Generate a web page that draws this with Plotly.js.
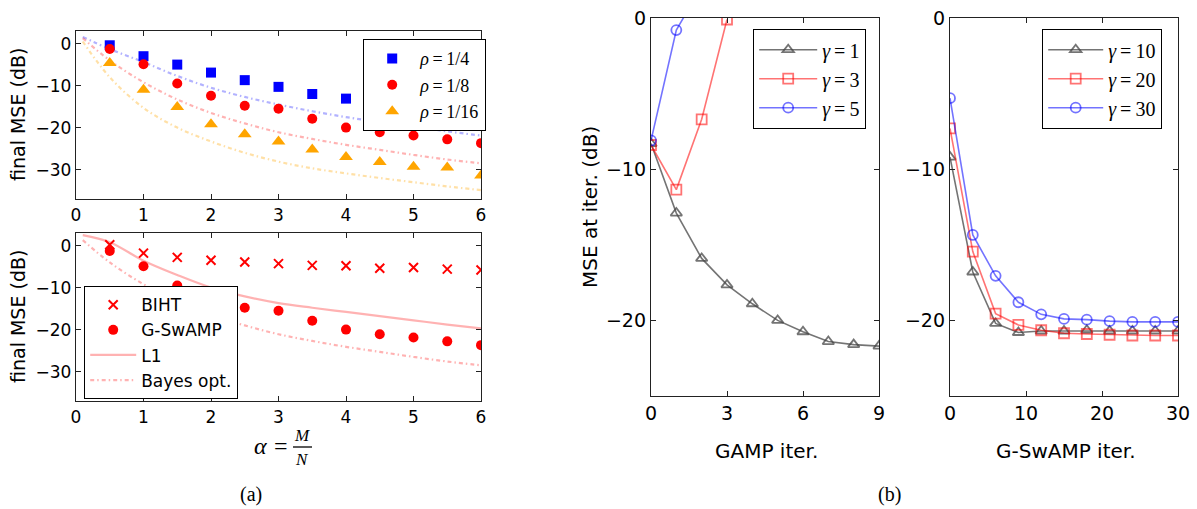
<!DOCTYPE html>
<html>
<head>
<meta charset="utf-8">
<script src="https://cdn.plot.ly/plotly-3.0.1.min.js"></script>
<style>html,body{margin:0;padding:0;background:#fff;}#chart{width:1197px;height:509px;}</style>
</head>
<body>
<div id="chart"></div>
<script>
// ---------- data ----------
const alpha = [0.5, 1, 1.5, 2, 2.5, 3, 3.5, 4, 4.5, 5, 5.5, 6];
const rho4  = [-0.4, -3.0, -5.0, -6.9, -8.7, -10.3, -12.0, -13.1, -14.3, -15.3, -16.3, -17.2];
const rho8  = [-1.3, -4.9, -9.5, -12.4, -14.8, -15.5, -17.9, -20.0, -21.1, -21.9, -22.8, -23.7];
const rho16 = [-4.6, -11.0, -15.1, -19.2, -21.6, -23.3, -25.2, -27.0, -28.2, -29.3, -29.5, -31.4];

const alphaC  = [0.1, 0.5, 1, 1.5, 2, 2.5, 3, 3.5, 4, 4.5, 5, 5.5, 6];
const bayes4  = [1.6, -1.3, -4.4, -7.7, -10.5, -12.7, -14.5, -16.1, -17.5, -18.7, -19.8, -20.9, -21.9];
const bayes8  = [1.3, -4.0, -9.2, -13.3, -16.5, -19.0, -21.1, -22.7, -24.1, -25.3, -26.5, -27.6, -28.5];
const bayes16 = [0.5, -8.0, -15.3, -20.0, -23.3, -26.0, -28.1, -29.7, -30.9, -32.0, -33.0, -34.0, -34.9];

const biht   = [0.2, -1.8, -2.8, -3.5, -3.9, -4.3, -4.7, -4.8, -5.4, -5.2, -5.6, -5.8];
const gswamp = rho8;
const l1     = [2.5, 0.8, -3.6, -7.0, -10.0, -12.1, -13.7, -14.8, -15.8, -16.8, -17.8, -18.8, -19.7];

const gampIter = [0, 1, 2, 3, 4, 5, 6, 7, 8, 9];
const gamma1 = [-8.3, -12.9, -15.9, -17.65, -18.9, -20.0, -20.75, -21.4, -21.6, -21.7];
const gamma3 = [-8.4, -11.35, -6.7, -0.1];
const gamma5 = [-8.1, -0.8, 2.1];

const swampIter = [0, 3, 6, 9, 12, 15, 18, 21, 24, 27, 30];
const gamma10 = [-9.2, -16.8, -20.2, -20.8, -20.7, -20.7, -20.65, -20.7, -20.7, -20.7, -20.7];
const gamma20 = [-7.3, -15.45, -19.55, -20.3, -20.65, -20.85, -20.9, -20.95, -21.0, -21.0, -21.0];
const gamma30 = [-5.3, -14.35, -17.05, -18.8, -19.6, -19.9, -19.95, -20.05, -20.1, -20.1, -20.1];

const ticksA = [0, 1, 2, 3, 4, 5, 6];
const ticksYA = [0, -10, -20, -30];
const ticksGamp = [0, 3, 6, 9];
const ticksSwamp = [0, 10, 20, 30];
const ticksYB = [0, -10, -20];

// ---------- helpers ----------
const W = 1197, H = 509;
const px = x => x / W;
const py = y => 1 - y / H;
const SANS = 'DejaVu Sans, sans-serif';
const SERIF = 'Liberation Serif, DejaVu Serif, serif';
const DASHDOT = '4px,3px,1.5px,3px';

const traces = [];
// top-left: Bayes-opt curves (no legend)
[[bayes4, 'rgba(0,0,255,0.3)'], [bayes8, 'rgba(255,0,0,0.3)'], [bayes16, 'rgba(255,165,0,0.35)']].forEach(([ys, c]) => {
  traces.push({x: alphaC, y: ys, xaxis: 'x', yaxis: 'y', mode: 'lines', showlegend: false,
    line: {color: c, width: 2.2, dash: DASHDOT, shape: 'spline'}, hoverinfo: 'skip'});
});
traces.push({x: alpha, y: rho4, xaxis: 'x', yaxis: 'y', mode: 'markers', name: '<i>ρ</i>\u2009=\u20091/4', legend: 'legend',
  marker: {symbol: 'square', size: 10, color: '#0000ff'}});
traces.push({x: alpha, y: rho8, xaxis: 'x', yaxis: 'y', mode: 'markers', name: '<i>ρ</i>\u2009=\u20091/8', legend: 'legend',
  marker: {symbol: 'circle', size: 10, color: '#ff0000'}});
traces.push({x: alpha, y: rho16, xaxis: 'x', yaxis: 'y', mode: 'markers', name: '<i>ρ</i>\u2009=\u20091/16', legend: 'legend',
  marker: {symbol: 'triangle-up', size: 12, color: '#ffa500'}});

// bottom-left
traces.push({x: alphaC, y: l1, xaxis: 'x2', yaxis: 'y2', mode: 'lines', name: 'L1', legend: 'legend2', legendrank: 3,
  line: {color: 'rgba(255,0,0,0.3)', width: 2.2, shape: 'spline'}});
traces.push({x: alphaC, y: bayes8, xaxis: 'x2', yaxis: 'y2', mode: 'lines', name: 'Bayes opt.', legend: 'legend2', legendrank: 4,
  line: {color: 'rgba(255,0,0,0.3)', width: 2.2, dash: DASHDOT, shape: 'spline'}});
traces.push({x: alpha, y: biht, xaxis: 'x2', yaxis: 'y2', mode: 'markers', name: 'BIHT', legend: 'legend2', legendrank: 1,
  marker: {symbol: 'x-thin-open', size: 9, color: '#ff0000', line: {color: '#ff0000', width: 2}}});
traces.push({x: alpha, y: gswamp, xaxis: 'x2', yaxis: 'y2', mode: 'markers', name: 'G-SwAMP', legend: 'legend2', legendrank: 2,
  marker: {symbol: 'circle', size: 10, color: '#ff0000'}});

// middle (GAMP)
const cGray = 'rgba(70,70,70,0.75)', cRed = 'rgba(255,0,0,0.55)', cBlue = 'rgba(0,0,255,0.55)';
function lm(xs, ys, xa, ya, name, col, sym, leg) {
  return {x: xs, y: ys, xaxis: xa, yaxis: ya, mode: 'lines+markers', name: name, legend: leg, cliponaxis: true,
    line: {color: col, width: 1.6}, marker: {symbol: sym, size: 10, color: col, line: {color: col, width: 1.8}}};
}
traces.push(lm(gampIter, gamma1, 'x3', 'y3', '<i>γ</i>\u2009=\u20091', cGray, 'triangle-up-open', 'legend3'));
traces.push(lm(gampIter.slice(0, gamma3.length), gamma3, 'x3', 'y3', '<i>γ</i>\u2009=\u20093', cRed, 'square-open', 'legend3'));
traces.push(lm(gampIter.slice(0, gamma5.length), gamma5, 'x3', 'y3', '<i>γ</i>\u2009=\u20095', cBlue, 'circle-open', 'legend3'));

// right (G-SwAMP)
traces.push(lm(swampIter, gamma10, 'x4', 'y4', '<i>γ</i>\u2009=\u200910', cGray, 'triangle-up-open', 'legend4'));
traces.push(lm(swampIter, gamma20, 'x4', 'y4', '<i>γ</i>\u2009=\u200920', cRed, 'square-open', 'legend4'));
traces.push(lm(swampIter, gamma30, 'x4', 'y4', '<i>γ</i>\u2009=\u200930', cBlue, 'circle-open', 'legend4'));

// ---------- layout ----------
function ax(domain, range, tickvals, size, anchor) {
  return {domain: domain, range: range, tickvals: tickvals, anchor: anchor, showline: true, mirror: 'ticks',
    ticks: 'inside', ticklen: 5, tickwidth: 1, tickcolor: '#222', linecolor: '#222', linewidth: 1.2,
    showgrid: false, zeroline: false, fixedrange: true,
    tickfont: {family: SANS, size: size, color: '#000'}};
}
function legendBox(x, y, font, iw) {
  return {x: px(x), y: py(y), xanchor: 'left', yanchor: 'top', bgcolor: '#fff', bordercolor: '#000',
    borderwidth: 1.2, font: font, traceorder: 'normal', itemwidth: iw};
}
function note(text, x, y, size, family, angle) {
  return {text: text, x: px(x), y: py(y), xref: 'paper', yref: 'paper', showarrow: false,
    xanchor: 'center', yanchor: 'middle', textangle: angle || 0, font: {family: family, size: size, color: '#000'}};
}

const layout = {
  width: W, height: H, margin: {l: 0, r: 0, t: 0, b: 0}, paper_bgcolor: '#fff', plot_bgcolor: '#fff',
  xaxis:  ax([px(76), px(481)], [0, 6], ticksA, 17, 'y'),
  yaxis:  ax([py(199), py(31)], [-37, 3], ticksYA, 17, 'x'),
  xaxis2: ax([px(76), px(481)], [0, 6], ticksA, 17, 'y2'),
  yaxis2: ax([py(401), py(233)], [-37, 3], ticksYA, 17, 'x2'),
  xaxis3: ax([px(651), px(879)], [0, 9], ticksGamp, 19, 'y3'),
  yaxis3: ax([py(396), py(18)], [-25, 0], ticksYB, 19, 'x3'),
  xaxis4: ax([px(950), px(1178)], [0, 30], ticksSwamp, 19, 'y4'),
  yaxis4: ax([py(396), py(18)], [-25, 0], ticksYB, 19, 'x4'),
  legend:  legendBox(363, 39, {family: SERIF, size: 18, color: '#000'}, 46),
  legend2: legendBox(84, 286, {family: SANS, size: 17, color: '#000'}, 46),
  legend3: legendBox(753, 29, {family: SERIF, size: 20, color: '#000'}, 58),
  legend4: legendBox(1042, 29, {family: SERIF, size: 20, color: '#000'}, 55),
  annotations: [
    note('final MSE (dB)', 18, 115, 19, SANS, -90),
    note('final MSE (dB)', 18, 317, 19, SANS, -90),
    note('MSE at iter. (dB)', 590, 207, 20, SANS, -90),
    note('GAMP iter.', 766, 451, 20, SANS),
    note('G-SwAMP iter.', 1066, 451, 20, SANS),
    note('<i>α</i>', 260, 446, 24, SERIF),
    note('=', 281, 446, 24, SERIF),
    note('<i>M</i>', 302, 435, 17, SERIF),
    note('<i>N</i>', 302, 459, 17, SERIF),
    note('(a)', 251, 494, 20, SERIF),
    note('(b)', 889, 494, 20, SERIF)
  ],
  shapes: [
    {type: 'line', xref: 'paper', yref: 'paper', x0: px(293), x1: px(312), y0: py(447), y1: py(447),
     line: {color: '#000', width: 1.3}}
  ]
};

Plotly.newPlot('chart', traces, layout, {displayModeBar: false, staticPlot: true});
</script>
</body>
</html>
